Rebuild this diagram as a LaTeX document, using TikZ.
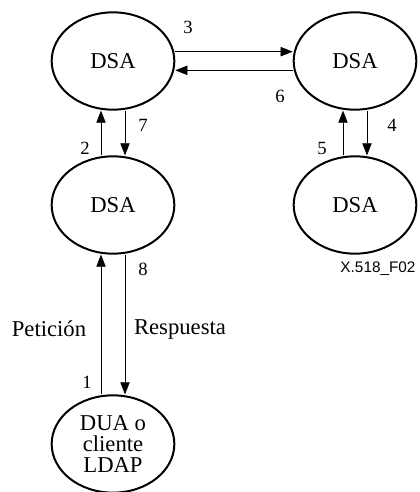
\documentclass[tikz,border=0pt]{standalone}
\usepackage{fontspec}
\setmainfont{Liberation Serif}
\setsansfont{Liberation Sans}
\usetikzlibrary{shapes.geometric,arrows.meta}
\tikzset{
  agent/.style={draw, ellipse, line width=1.5pt, inner sep=0pt,
    minimum width=92pt, minimum height=73pt, font=\fontsize{17}{15.5}\selectfont, align=center},
  num/.style={font=\fontsize{14}{16}\selectfont, inner sep=0pt},
  msg/.style={font=\fontsize{17}{19}\selectfont, inner sep=0pt}
}
\begin{document}
\begin{tikzpicture}[x=0.75pt, y=-0.75pt, >={Triangle[length=9pt,width=7pt]}, line join=round]
  \useasboundingbox (0,0) rectangle (420,492);
  \def\dx{9pt} \def\dy{7pt}
  % the five ellipses
  \node[agent] (dsaA) at (113,61) {DSA};
  \node[agent] (dsaB) at (355,61) {DSA};
  \node[agent] (dsaC) at (113,205) {DSA};
  \node[agent] (dsaD) at (355,205) {DSA};
  \node[agent] (dua) at (113,444) {DUA o\\cliente\\LDAP};
  % arrows
  \draw[->] ([yshift=\dy]dsaA.east)--([yshift=\dy]dsaB.west);
  \draw[->] ([yshift=-\dy]dsaB.west)--([yshift=-\dy]dsaA.east);
  \draw[->] ([xshift=-\dx]dsaC.north)--([xshift=-\dx]dsaA.south);
  \draw[->] ([xshift=\dx]dsaA.south)--([xshift=\dx]dsaC.north);
  \draw[->] ([xshift=\dx]dsaB.south)--([xshift=\dx]dsaD.north);
  \draw[->] ([xshift=-\dx]dsaD.north)--([xshift=-\dx]dsaB.south);
  \draw[->] ([xshift=-\dx]dua.north)--([xshift=-\dx]dsaC.south);
  \draw[->] ([xshift=\dx]dsaC.south)--([xshift=\dx]dua.north);
  % labels
  \node[num] (l1) at (87,382) {1};
  \node[num] (l2) at (85,148) {2};
  \node[num] (l3) at (188,27) {3};
  \node[num] (l4) at (392,125) {4};
  \node[num] (l5) at (322,148) {5};
  \node[num] (l6) at (280,96) {6};
  \node[num] (l7) at (143,125) {7};
  \node[num] (l8) at (143,269) {8};
  \node[msg] (req) at (49,329) {Petición};
  \node[msg] (resp) at (180,329) {Respuesta};
  \node[inner sep=0pt, font=\sffamily\fontsize{11.5}{13}\selectfont] (fig) at (378,269) {X.518\_F02};
\end{tikzpicture}
\end{document}
